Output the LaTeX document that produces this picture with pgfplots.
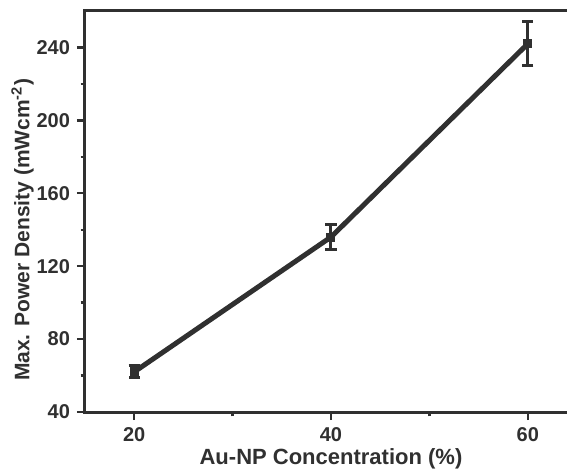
\documentclass[border=0pt]{standalone}
\usepackage{fontspec}
\setmainfont{Liberation Sans}
\usepackage{pgfplots}
\pgfplotsset{compat=1.18}
\usetikzlibrary{calc}
\definecolor{ink}{HTML}{303030}

\begin{document}
\begin{tikzpicture}
\begin{axis}[
    scale only axis,
    width=246pt, height=200.5pt,
    xmin=15, xmax=65, ymin=40, ymax=260,
    xtick={20,40,60}, minor xtick={30,50},
    ytick={40,80,...,240}, minor ytick={60,100,...,220},
    tick align=outside,
    xtick pos=bottom, ytick pos=left,
    major tick length=4pt, minor tick length=2.2pt,
    every tick/.style={ink, line width=1.2pt},
    axis line style={ink, line width=1.5pt},
    /pgf/number format/assume math mode=true,
    ticklabel style={font=\fontsize{10}{12}\selectfont\bfseries, text=ink},
    xlabel style={font=\fontsize{11}{13}\selectfont\bfseries, text=ink, yshift=3pt},
    ylabel style={font=\fontsize{10.5}{12.5}\selectfont\bfseries, text=ink,
        at={(ticklabel cs:0.454)}, yshift=-5.5pt},
    xlabel={Au-NP Concentration (\%)},
    ylabel={Max. Power Density (mWcm\textsuperscript{-2})},
    clip=false,
]
\addplot[ink, line width=2.5pt, mark=square*, mark size=2pt,
    mark options={solid, fill=ink, line width=0.5pt},
    error bars/.cd, y dir=both, y explicit,
    error bar style={line width=1.5pt, ink},
    error mark options={rotate=90, mark size=2.8pt, line width=1.5pt, ink},
] coordinates {
    (20,62) +- (0,3.3)
    (40,136) +- (0,7)
    (60,242) +- (0,12)
};
\coordinate (ll) at (rel axis cs:0,0);
\coordinate (ur) at (rel axis cs:1,1);
\end{axis}
\pgfresetboundingbox
\useasboundingbox ($(ll)+(-42.5pt,-29.5pt)$) rectangle ($(ur)+(-5pt,5.5pt)$);
\end{tikzpicture}
\end{document}
